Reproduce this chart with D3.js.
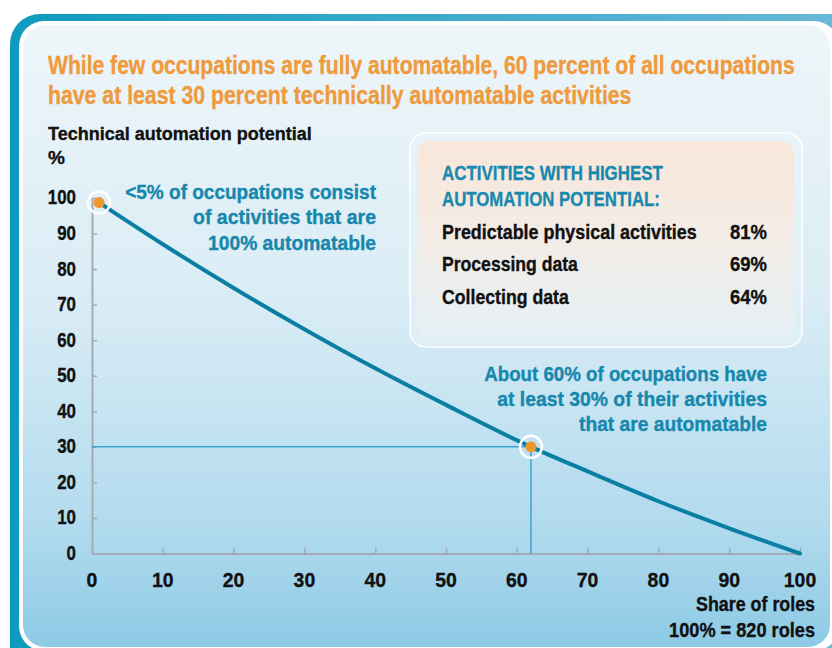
<!DOCTYPE html>
<html><head><meta charset="utf-8">
<script src="https://cdn.jsdelivr.net/npm/d3@7"></script>
<style>body{margin:0;background:#fff}svg{display:block}</style>
</head><body><svg id="c" width="832" height="648"></svg>
<script>
// ---- data ----
const shareOfRoles = [1, 10, 20, 30, 40, 50, 62, 70, 80, 90, 100];
const automationPotential = [98.7, 87, 74.7, 63.1, 52.1, 41.8, 30, 23.1, 14.7, 7.1, 0];
const xTicks = [0, 10, 20, 30, 40, 50, 60, 70, 80, 90, 100];
const yTicks = [0, 10, 20, 30, 40, 50, 60, 70, 80, 90, 100];
const highlightX = [1, 62];
const highlightY = [98.7, 30];
const titleLines = ["While few occupations are fully automatable, 60 percent of all occupations",
                    "have at least 30 percent technically automatable activities"];
const yTitle = ["Technical automation potential", "%"];
const xTitle = ["Share of roles", "100% = 820 roles"];
const note1 = ["<5% of occupations consist", "of activities that are", "100% automatable"];
const note2 = ["About 60% of occupations have", "at least 30% of their activities", "that are automatable"];
const boxTitle = ["ACTIVITIES WITH HIGHEST", "AUTOMATION POTENTIAL:"];
const activities = ["Predictable physical activities", "Processing data", "Collecting data"];
const activityShares = ["81%", "69%", "64%"];

// ---- drawing ----
const F = "'Liberation Sans','Arimo',Arial,sans-serif";
const svg = d3.select("#c");
const defs = svg.append("defs");
const g1 = defs.append("linearGradient").attr("id","frame").attr("x1","0").attr("x2","1").attr("y1","0").attr("y2","0");
g1.append("stop").attr("offset","0").attr("stop-color","#0e9bbd");
g1.append("stop").attr("offset","1").attr("stop-color","#6cb9da");
const g2 = defs.append("linearGradient").attr("id","panel").attr("x1","0").attr("x2","0").attr("y1","0").attr("y2","1");
g2.append("stop").attr("offset","0").attr("stop-color","#eef6f9");
g2.append("stop").attr("offset","0.45").attr("stop-color","#d9ecf5");
g2.append("stop").attr("offset","0.8").attr("stop-color","#b2dbee");
g2.append("stop").attr("offset","1").attr("stop-color","#8dcae5");
const g3 = defs.append("linearGradient").attr("id","box").attr("x1","0").attr("x2","0").attr("y1","0").attr("y2","1");
g3.append("stop").attr("offset","0").attr("stop-color","#f8e6d9");
g3.append("stop").attr("offset","0.5").attr("stop-color","#f3ece6");
g3.append("stop").attr("offset","1").attr("stop-color","#e6f1f6");

// squeeze text horizontally to a given width (condensed look), scaling about its anchor x
function fit(sel, widths) {
  sel.each(function(d, i) {
    const w = typeof widths === "function" ? widths(d, i) : widths[i];
    if (!w) return;
    const len = this.getComputedTextLength();
    const k = w / len;
    const ax = +this.getAttribute("x");
    d3.select(this).attr("transform", `translate(${ax},0) scale(${k},1) translate(${-ax},0)`);
  });
}
function texts(data, attrs) {
  const s = svg.append("g").selectAll("text").data(data).join("text")
    .attr("font-family", F).attr("font-weight", "bold").text(d => d);
  for (const k in attrs) s.attr(k, attrs[k]);
  if (attrs.fill) s.attr("stroke", attrs.fill).attr("stroke-width", 0.35);
  return s;
}

svg.append("rect").attr("x",10).attr("y",14).attr("width",860).attr("height",680).attr("rx",30).attr("fill","url(#frame)");
svg.append("rect").attr("x",19).attr("y",21).attr("width",820).attr("height",630).attr("rx",25).attr("fill","#fff");
svg.append("rect").attr("x",23).attr("y",25).attr("width",807).attr("height",622).attr("rx",22).attr("fill","url(#panel)");

// title
fit(texts(titleLines, {x:48, y:(d,i)=>74+i*30, "font-size":25, fill:"#ef9a3c"}), [747, 584]);

// scales
const x = d3.scaleLinear().domain([0,100]).range([92,800]);
const y = d3.scaleLinear().domain([0,100]).range([553.5,198]);

// info box
svg.append("rect").attr("x",410).attr("y",133).attr("width",392).attr("height",214).attr("rx",16)
  .attr("fill","#eaf4f8").attr("fill-opacity",0.5).attr("stroke","#fff").attr("stroke-width",1.5);
svg.append("rect").attr("x",417).attr("y",141).attr("width",377).attr("height",196).attr("rx",13)
  .attr("fill","url(#box)");
fit(texts(boxTitle, {x:442, y:(d,i)=>180+i*26, "font-size":21, fill:"#1889ae"}), [221, 218]);
fit(texts(activities, {x:442, y:(d,i)=>239+i*32.5, "font-size":20, fill:"#111"}), [255, 136, 127]);
fit(texts(activityShares, {x:767, y:(d,i)=>239+i*32.5, "font-size":20, fill:"#111", "text-anchor":"end"}), [37, 37, 37]);

// axes
const axStyle = s => { s.select(".domain").attr("stroke","#a3abb3").attr("stroke-width",2);
                       s.selectAll(".tick line").attr("stroke","#a3abb3").attr("stroke-width",1.5); };
svg.append("g").attr("transform",`translate(0,${y(0)})`)
  .call(d3.axisTop(x).tickValues(xTicks).tickSize(6).tickSizeOuter(0).tickFormat("")).call(axStyle);
svg.append("g").attr("transform",`translate(${x(0)},0)`)
  .call(d3.axisRight(y).tickValues(yTicks).tickSize(5).tickSizeOuter(0).tickFormat("")).call(axStyle);

// tick labels
fit(texts(xTicks, {x:d=>x(d), y:587, "text-anchor":"middle", "font-size":21, fill:"#111"}),
    d => String(d).length * 10.8);
fit(texts(yTicks, {x:76, y:d=>y(d)+6.5, "text-anchor":"end", "font-size":20, fill:"#111"}),
    d => String(d).length * 9.4);
fit(texts(yTitle, {x:48, y:(d,i)=>140+i*24, "font-size":19, fill:"#111"}), [264, 0]);
fit(texts(xTitle, {x:815, y:(d,i)=>611+i*26, "text-anchor":"end", "font-size":20, fill:"#111"}), [119, 146]);

// reference lines
svg.append("path")
  .attr("d",`M${x(0)},${y(highlightY[1])}H${x(highlightX[1])}V${y(0)}`)
  .attr("fill","none").attr("stroke","#3aa5cf").attr("stroke-width",1.5);

// curve
const pts = shareOfRoles.map((v,i)=>[v,automationPotential[i]]);
svg.append("path").datum(pts)
  .attr("d",d3.line().x(d=>x(d[0])).y(d=>y(d[1])).curve(d3.curveMonotoneX))
  .attr("fill","none").attr("stroke","#0b7fa3").attr("stroke-width",4).attr("stroke-linecap","round");

// highlights
const hl = svg.append("g").selectAll("g").data(highlightX.map((v,i)=>[v,highlightY[i]])).join("g")
  .attr("transform",d=>`translate(${x(d[0])},${y(d[1])})`);
hl.append("circle").attr("r",11).attr("fill","none").attr("stroke","#fff").attr("stroke-width",2.5);
hl.append("circle").attr("r",5.5).attr("fill","#f0962e");

// notes
fit(texts(note1, {x:376, y:(d,i)=>199+i*25.5, "text-anchor":"end", "font-size":20, fill:"#1687ad"}), [251, 183, 168]);
fit(texts(note2, {x:767, y:(d,i)=>381+i*25, "text-anchor":"end", "font-size":20, fill:"#1687ad"}), [283, 270, 188]);
</script></body></html>
